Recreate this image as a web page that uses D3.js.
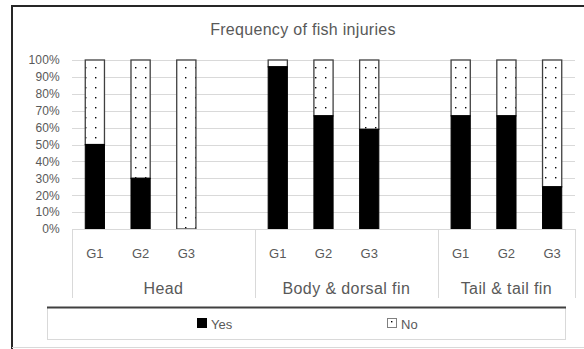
<!DOCTYPE html>
<html><head><meta charset="utf-8">
<script src="https://cdn.jsdelivr.net/npm/d3@7"></script>
<style>
html,body{margin:0;padding:0;background:#fff;}
svg{display:block;font-family:"Liberation Sans",Arial,sans-serif;}
</style></head>
<body>
<svg id="chart" width="584" height="349"></svg>
<script>
const title = "Frequency of fish injuries";
const groups = ["Head", "Body & dorsal fin", "Tail & tail fin"];
const subs = ["G1", "G2", "G3"];
const yesValues = [50, 30, 0, 96, 67, 59, 67, 67, 25];
const noValues = yesValues.map(v => 100 - v);
const yTicks = [0, 10, 20, 30, 40, 50, 60, 70, 80, 90, 100];
const seriesNames = ["Yes", "No"];

const svg = d3.select("#chart");
const W = 584, H = 349;
const plot = {left: 72, right: 575, top: 60, bottom: 229};
const textCol = "#595959";

const defs = svg.append("defs");
const pat = defs.append("pattern").attr("id", "dots")
  .attr("patternUnits", "userSpaceOnUse").attr("width", 10).attr("height", 10)
  .attr("x", 1).attr("y", 3);
pat.append("rect").attr("width", 10).attr("height", 10).attr("fill", "#fff");
pat.append("rect").attr("x", 4).attr("y", 4).attr("width", 1.4).attr("height", 1.4).attr("fill", "#000");

// frame
svg.append("line").attr("x1", 12).attr("x2", W).attr("y1", 6).attr("y2", 6).attr("stroke", "#262626").attr("stroke-width", 2);
svg.append("line").attr("x1", 12).attr("x2", 12).attr("y1", 5).attr("y2", H).attr("stroke", "#262626").attr("stroke-width", 2);
svg.append("line").attr("x1", 12).attr("x2", W).attr("y1", 347.5).attr("y2", 347.5).attr("stroke", "#d9d9d9").attr("stroke-width", 1);

// title
svg.append("text").attr("x", 303).attr("y", 35).attr("text-anchor", "middle")
  .attr("font-size", 16).attr("letter-spacing", 0.3).attr("fill", textCol).text(title);

// scales
const slots = [];
groups.forEach((g, gi) => subs.forEach((s, si) => slots.push({g: gi, s: si, key: gi * 4 + si})));
const x = d3.scaleBand().domain(d3.range(11)).range([plot.left, plot.right]).padding(0);
const bw = x.bandwidth();
const y = d3.scaleLinear().domain([0, 100]).range([plot.bottom, plot.top]);

// gridlines
svg.append("g").selectAll("line").data(yTicks).join("line")
  .attr("x1", plot.left).attr("x2", plot.right)
  .attr("y1", d => Math.round(y(d)) + 0.5).attr("y2", d => Math.round(y(d)) + 0.5)
  .attr("stroke", "#d9d9d9");

// y axis
const yAxis = svg.append("g").attr("transform", `translate(${plot.left - 12},0)`)
  .call(d3.axisLeft(y).tickValues(yTicks).tickSize(0).tickPadding(0).tickFormat(d => d + "%"));
yAxis.select(".domain").remove();
yAxis.selectAll("text").attr("font-size", 12).attr("fill", textCol)
  .attr("font-family", "Liberation Sans, Arial, sans-serif").attr("letter-spacing", 0.2);

// bars
const barW = bw * 0.42;
const bars = svg.append("g");
slots.forEach((d, i) => {
  const x0 = x(d.key) + (bw - barW) / 2;
  const yes = yesValues[i], no = noValues[i];
  if (no > 0) {
    bars.append("rect").attr("x", x0).attr("width", barW)
      .attr("y", y(100)).attr("height", y(yes) - y(100))
      .attr("fill", "url(#dots)").attr("stroke", "#404040").attr("stroke-width", 1.3);
  }
  if (yes > 0) {
    bars.append("rect").attr("x", x0).attr("width", barW)
      .attr("y", y(yes)).attr("height", y(0) - y(yes))
      .attr("fill", "#000").attr("stroke", "#000").attr("stroke-width", 1);
  }
});

// category axis
const catG = svg.append("g");
catG.append("line").attr("x1", plot.left).attr("x2", plot.right)
  .attr("y1", plot.bottom + 0.5).attr("y2", plot.bottom + 0.5).attr("stroke", "#d9d9d9");
const dividers = [0, 4, 8].map(k => x(k)).concat([plot.right]);
catG.selectAll("line.div").data(dividers).join("line").attr("class", "div")
  .attr("x1", d => Math.round(d) + 0.5).attr("x2", d => Math.round(d) + 0.5)
  .attr("y1", plot.bottom).attr("y2", 298).attr("stroke", "#d9d9d9");
catG.selectAll("text.sub").data(slots).join("text").attr("class", "sub")
  .attr("x", d => x(d.key) + bw / 2).attr("y", 258).attr("text-anchor", "middle")
  .attr("font-size", 13).attr("fill", textCol).text(d => subs[d.s]);
catG.selectAll("text.grp").data(groups).join("text").attr("class", "grp")
  .attr("x", (d, i) => (dividers[i] + dividers[i + 1]) / 2).attr("y", 294).attr("text-anchor", "middle")
  .attr("font-size", 16).attr("letter-spacing", 0.4).attr("fill", textCol).text(d => d);

// legend
const lg = svg.append("g");
lg.append("rect").attr("x", 47.5).attr("y", 307.5).attr("width", 518).attr("height", 32)
  .attr("fill", "#fff").attr("stroke", "#d9d9d9");
lg.append("line").attr("x1", 47).attr("x2", 566).attr("y1", 307.5).attr("y2", 307.5).attr("stroke", "#404040").attr("stroke-width", 2);
const legX = [197, 387];
seriesNames.forEach((n, i) => {
  lg.append("rect").attr("x", legX[i] + 0.5).attr("y", 318.5).attr("width", 9).attr("height", 9)
    .attr("fill", i === 0 ? "#000" : "#fff").attr("stroke", i === 0 ? "#000" : "#808080");
  if (i === 1) lg.append("rect").attr("x", legX[i] + 4).attr("y", 321).attr("width", 1.4).attr("height", 1.4).attr("fill", "#000");
  lg.append("text").attr("x", legX[i] + 14).attr("y", 328.5).attr("font-size", 13).attr("fill", textCol).text(n);
});
</script>
</body></html>
